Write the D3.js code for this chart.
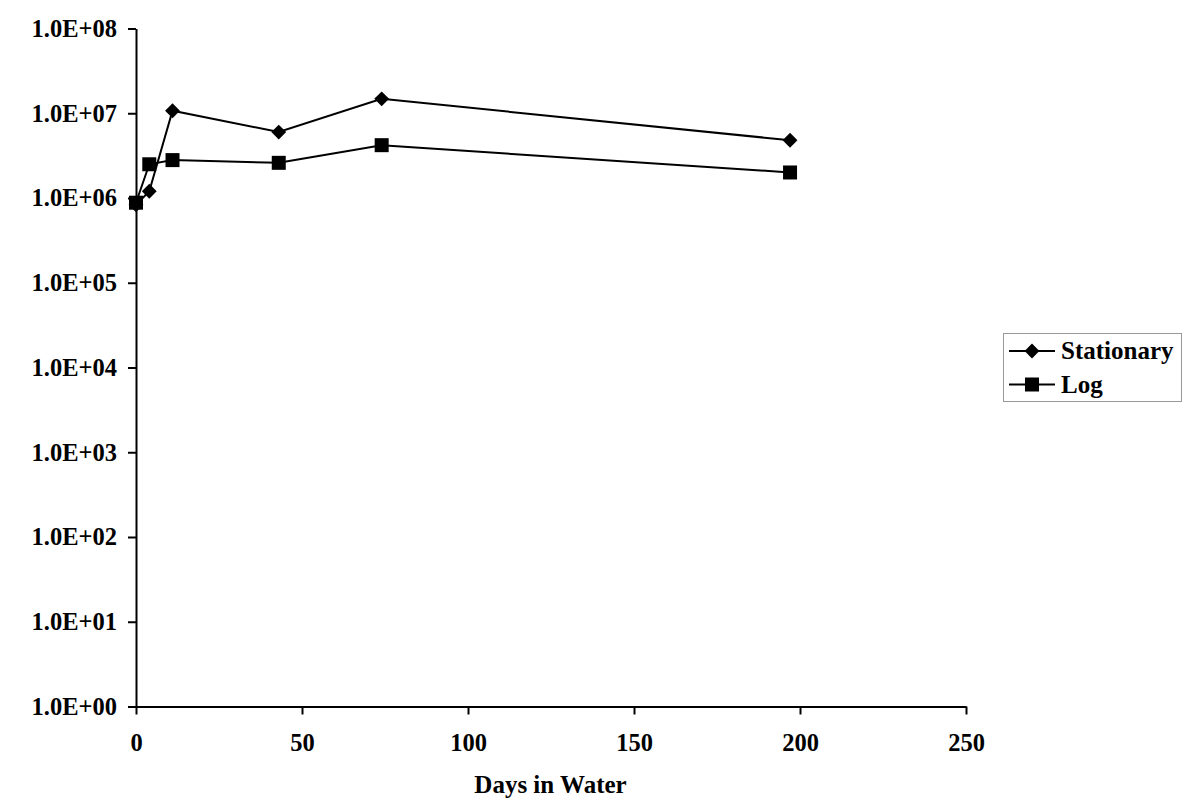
<!DOCTYPE html>
<html><head><meta charset="utf-8">
<script src="https://cdn.jsdelivr.net/npm/d3@7"></script>
<style>body{margin:0;background:#fff}svg{display:block}text{font-family:"Liberation Serif","Times New Roman",serif;font-weight:bold;fill:#000}</style>
</head><body>
<svg id="c" width="1200" height="807"></svg>
<script>
const days = [0, 4, 11, 43, 74, 197];
const stationary = [8.3e5, 1.2e6, 1.07e7, 6.0e6, 1.48e7, 4.8e6];
const logPhase = [8.8e5, 2.5e6, 2.8e6, 2.6e6, 4.2e6, 2.0e6];
const seriesNames = ["Stationary", "Log"];
const xTicks = [0, 50, 100, 150, 200, 250];
const yTicks = [1e0, 1e1, 1e2, 1e3, 1e4, 1e5, 1e6, 1e7, 1e8];
const yTickLabels = ["1.0E+00","1.0E+01","1.0E+02","1.0E+03","1.0E+04","1.0E+05","1.0E+06","1.0E+07","1.0E+08"];
const xTitle = "Days in Water";

const svg = d3.select("#c");
const L = 136, R = 966, T = 28.5, B = 706.5;
const x = d3.scaleLinear().domain([0, 250]).range([L, R]);
const y = d3.scaleLog().domain([1, 1e8]).range([B, T]);

const gx = svg.append("g").attr("transform", `translate(0,${B})`)
  .call(d3.axisBottom(x).tickValues(xTicks).tickSize(8).tickSizeOuter(0).tickPadding(19));
const gy = svg.append("g").attr("transform", `translate(${L},0)`)
  .call(d3.axisLeft(y).tickValues(yTicks).tickFormat((d,i)=>yTickLabels[i]).tickSize(8).tickSizeOuter(0).tickPadding(11));
[gx, gy].forEach(g => {
  g.attr("font-size", null).attr("font-family", null);
  g.select(".domain").attr("stroke", "#000").attr("stroke-width", 2);
  g.selectAll(".tick line").attr("stroke", "#000").attr("stroke-width", 2);
  g.selectAll("text").style("font-size", "24.5px").attr("fill", "#000");
});

svg.append("text").attr("x", 550.5).attr("y", 792.5).attr("text-anchor", "middle")
  .style("font-size", "25px").text(xTitle);

const line = d3.line().x(d => x(d[0])).y(d => y(d[1]));
const data = [stationary, logPhase].map(v => days.map((d,i)=>[d, v[i]]));
const diamond = d3.symbol().type(d3.symbolSquare).size(110);
const square = d3.symbol().type(d3.symbolSquare).size(196);

data.forEach(s => {
  svg.append("path").datum(s).attr("d", line).attr("fill", "none").attr("stroke", "#000").attr("stroke-width", 2);
});
svg.selectAll(".dm").data(data[0]).join("path").attr("class","dm")
  .attr("d", diamond).attr("transform", d => `translate(${x(d[0])},${y(d[1])}) rotate(45)`).attr("fill", "#000");
svg.selectAll(".sq").data(data[1]).join("path").attr("class","sq")
  .attr("transform", d => `translate(${x(d[0])},${y(d[1])})`).attr("d", square).attr("fill", "#000");

// legend
const lg = svg.append("g");
lg.append("rect").attr("x", 1003.5).attr("y", 333.5).attr("width", 178).attr("height", 68)
  .attr("fill", "#fff").attr("stroke", "#999").attr("stroke-width", 1);
const ly = [351, 384.5];
seriesNames.forEach((n, i) => {
  lg.append("line").attr("x1", 1009).attr("x2", 1055).attr("y1", ly[i]).attr("y2", ly[i]).attr("stroke", "#000").attr("stroke-width", 2);
  if (i === 0) lg.append("path").attr("d", diamond).attr("transform", `translate(1032,${ly[i]}) rotate(45)`).attr("fill", "#000");
  else lg.append("path").attr("d", square).attr("transform", `translate(1032,${ly[i]})`).attr("fill", "#000");
  lg.append("text").attr("x", 1061).attr("y", ly[i] + 8).style("font-size", "25px").text(n);
});
</script>
</body></html>
